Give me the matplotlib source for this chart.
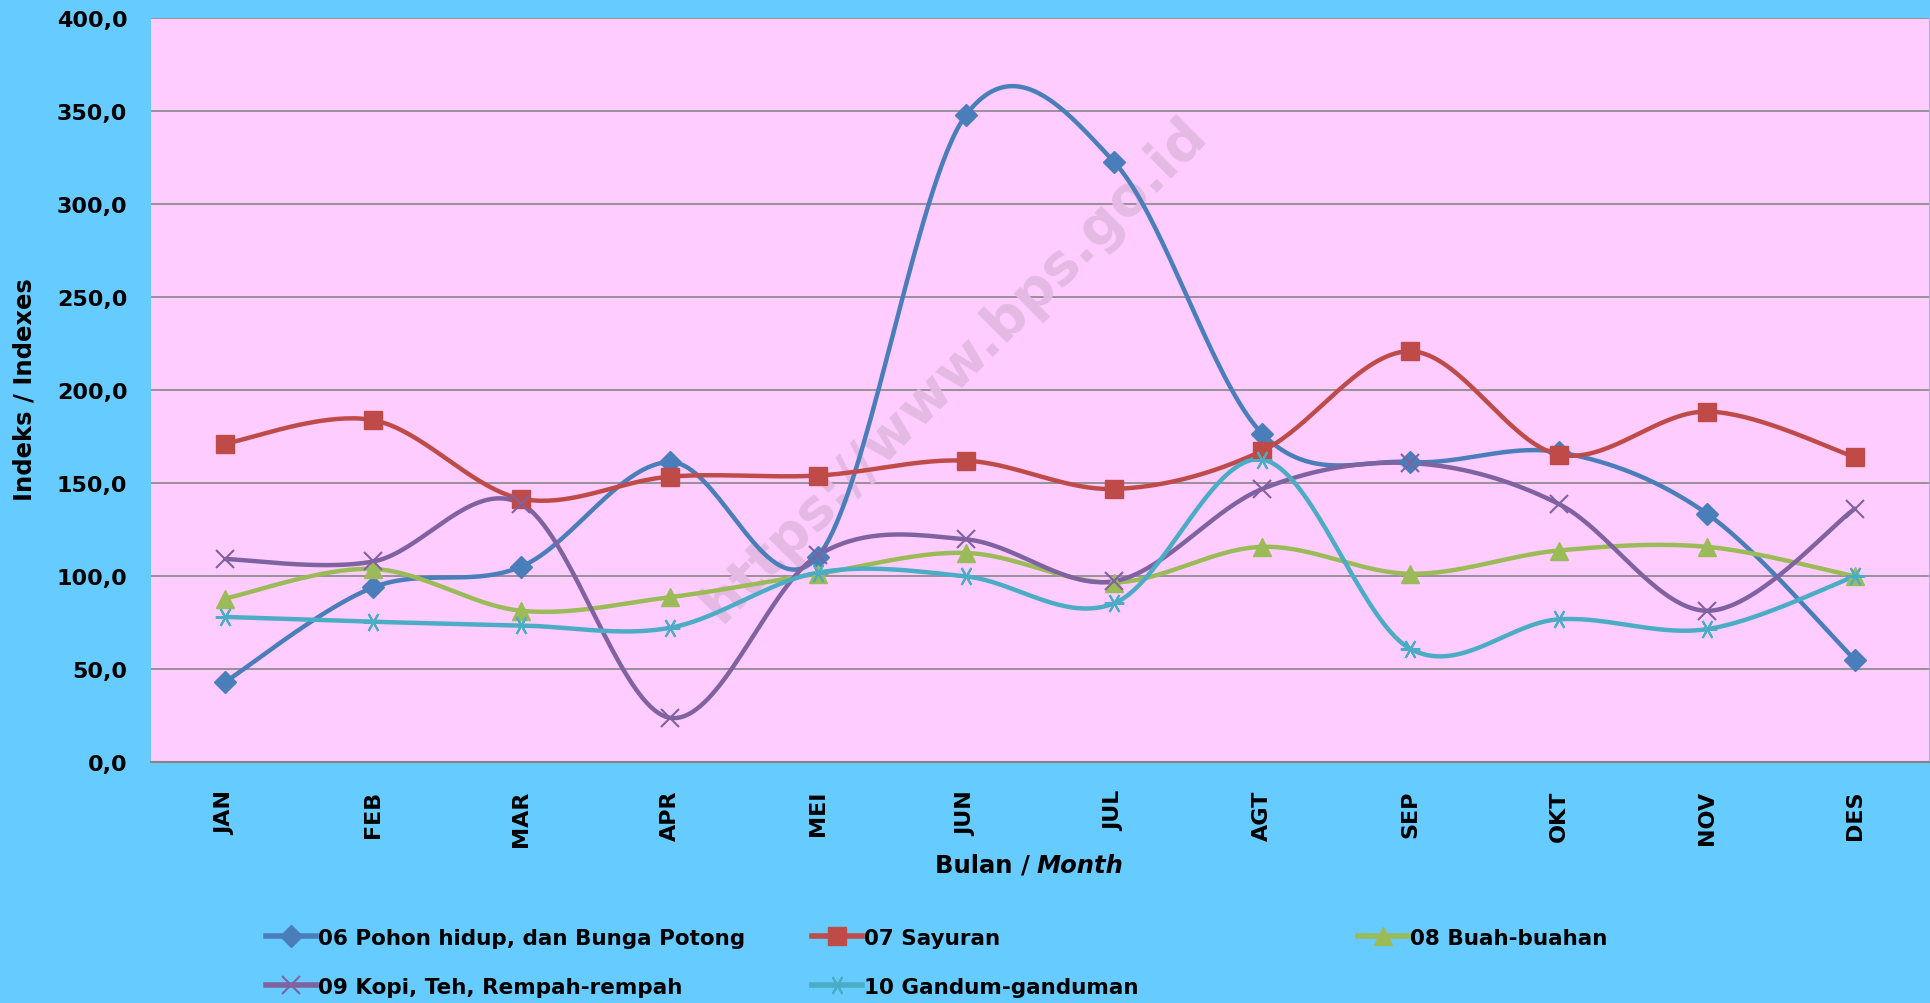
import numpy as np
import matplotlib
matplotlib.use("Agg")
import matplotlib.pyplot as plt
from matplotlib.lines import Line2D

months = ["JAN", "FEB", "MAR", "APR", "MEI", "JUN", "JUL", "AGT", "SEP", "OKT", "NOV", "DES"]

pohon = [43.0, 93.9, 105.1, 161.3, 110.4, 347.8, 322.6, 176.5, 161.3, 166.6, 133.6, 54.9]
sayuran = [171.2, 183.8, 141.5, 153.4, 154.0, 162.0, 146.8, 167.3, 220.8, 165.3, 188.4, 164.0]
buah = [87.9, 103.8, 81.3, 88.6, 101.2, 112.4, 96.5, 115.7, 101.2, 113.7, 115.7, 99.8]
kopi = [109.1, 107.8, 138.8, 23.8, 111.1, 119.7, 97.2, 146.8, 160.7, 138.8, 81.3, 136.2]
gandum = [78.0, 75.4, 73.4, 72.1, 101.8, 99.8, 85.3, 162.6, 60.8, 76.7, 71.4, 99.8]

labels = ["06 Pohon hidup, dan Bunga Potong", "07 Sayuran", "08 Buah-buahan",
          "09 Kopi, Teh, Rempah-rempah", "10 Gandum-ganduman"]
yticks = [0, 50, 100, 150, 200, 250, 300, 350, 400]

plt.rcParams["font.family"] = ["DejaVu Sans"]
plt.rcParams["font.weight"] = "bold"

W, H = 1930, 1004


def smooth(y, n=40):
    # Excel-like smoothed line: cubic Bezier through points (Catmull-Rom tangents)
    x = np.arange(len(y), dtype=float)
    y = np.asarray(y, dtype=float)
    px = np.concatenate([[x[0]], x, [x[-1]]])
    py = np.concatenate([[y[0]], y, [y[-1]]])
    t = np.linspace(0, 1, n)[:, None]
    xs, ys = [], []
    for i in range(len(y) - 1):
        p0 = np.array([px[i + 1], py[i + 1]])
        p3 = np.array([px[i + 2], py[i + 2]])
        c1 = p0 + (p3 - np.array([px[i], py[i]])) / 6
        c2 = p3 - (np.array([px[i + 3], py[i + 3]]) - p0) / 6
        b = ((1 - t) ** 3) * p0 + 3 * ((1 - t) ** 2) * t * c1 + 3 * (1 - t) * t ** 2 * c2 + t ** 3 * p3
        xs.append(b[:, 0])
        ys.append(b[:, 1])
    return np.concatenate(xs), np.concatenate(ys)


fig = plt.figure(figsize=(W / 100, H / 100), dpi=100, facecolor="#66CCFF")
ax = fig.add_axes([151 / W, 1 - 763 / H, 1778 / W, 744 / H])
ax.set_facecolor("#FFCCFF")

styles = [
    (pohon, "#4A7EBB", dict(marker="D", ms=11)),
    (sayuran, "#BE4B48", dict(marker="s", ms=13.5)),
    (buah, "#9BBB59", dict(marker="^", ms=13)),
    (kopi, "#7F62A0", dict(marker="x", ms=13, mew=1.5)),
    (gandum, "#4BACC6", dict(marker=(6, 2, 90), ms=14, mew=1.5)),
]

x = np.arange(len(months))
handles = []
for vals, col, mk in styles:
    sx, sy = smooth(vals)
    ax.plot(sx, sy, color=col, lw=3.2, solid_capstyle="round", zorder=3)
    ax.plot(x, vals, linestyle="none", color=col, mec=col, mfc=col, zorder=4, **mk)
    handles.append(Line2D([], [], color=col, lw=4, mec=col, mfc=col, **mk))

ax.set_xlim(-0.5, 11.5)
ax.set_ylim(0, 400)
ax.set_yticks(yticks)
ax.set_yticklabels([f"{v:.1f}".replace(".", ",") for v in yticks])
ax.set_xticks(x)
ax.set_xticklabels(months, rotation=90, va="top")
ax.tick_params(axis="both", length=0, labelsize=16)
ax.tick_params(axis="y", pad=17)
ax.tick_params(axis="x", pad=20)
for lab in ax.get_xticklabels() + ax.get_yticklabels():
    lab.set_fontweight("bold")
ax.grid(axis="y", color="#868686", lw=1.2, zorder=1)
ax.set_axisbelow(True)
for side in ["left", "top", "right"]:
    ax.spines[side].set_visible(False)
ax.spines["bottom"].set_color("#868686")
ax.spines["bottom"].set_linewidth(1.5)

# watermark
ax.text(0.4516, 0.528, "https://www.bps.go.id", transform=ax.transAxes, rotation=45,
        ha="center", va="center", fontsize=40, fontweight="bold", color="#E4B9E3",
        zorder=2)

fig.text(25 / W, 1 - 390 / H, "Indeks / Indexes", rotation=90, ha="center", va="center",
         fontsize=17.5, fontweight="bold")
fig.text(1030 / W, 1 - 866 / H, "Bulan /", ha="right", va="center", fontsize=17.5, fontweight="bold")
fig.text(1036 / W, 1 - 866 / H, "Month", ha="left", va="center", fontsize=17.5,
         fontweight="bold", style="italic")

# legend entries laid out like the Excel legend (fixed column positions)
pos = [(266, 939), (812, 939), (1358, 939), (266, 988), (812, 988)]
for h, lab, (px, py) in zip(handles, labels, pos):
    fig.legend([h], [lab], loc="center left", bbox_to_anchor=(px / W, 1 - py / H),
               frameon=False, borderpad=0, borderaxespad=0, handlelength=2.3,
               handletextpad=0.12, numpoints=1, prop={"size": 15.5, "weight": "bold"})

fig.savefig("out.png", dpi=100, facecolor=fig.get_facecolor())
